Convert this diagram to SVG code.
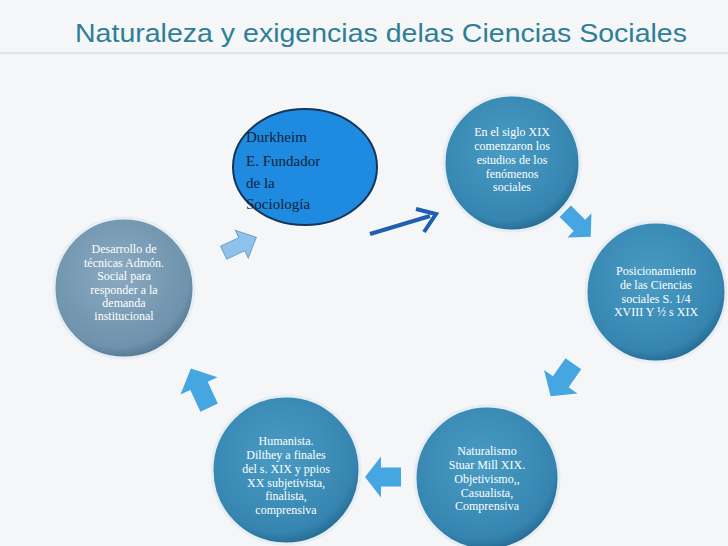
<svg xmlns="http://www.w3.org/2000/svg" width="728" height="546" viewBox="0 0 728 546">
<defs>
<radialGradient id="g1" cx="0.45" cy="0.4" r="0.65"><stop offset="0" stop-color="#4a9cc4"/><stop offset="0.8" stop-color="#3585b0"/><stop offset="1" stop-color="#1f5f85"/></radialGradient>
<radialGradient id="g2" cx="0.45" cy="0.4" r="0.65"><stop offset="0" stop-color="#8aaac0"/><stop offset="0.8" stop-color="#6f93ad"/><stop offset="1" stop-color="#4a6b85"/></radialGradient>
<path id="ba" d="M-18,-8 H2 V-17 L18,0 L2,17 V8 H-18 Z"/>
</defs>
<style>
.c{stroke:#e6eef3;stroke-width:3}
.t{font-family:"Liberation Serif",serif;font-size:12px;fill:#ffffff;text-anchor:middle}
.a{fill:#45a6e2}
</style>
<rect width="728" height="546" fill="#f4f6f7"/>
<rect x="0" y="52" width="728" height="2" fill="#dbe5ea"/>
<text x="75" y="42" font-family="Liberation Sans,sans-serif" font-size="26" fill="#2f7e98" textLength="612" lengthAdjust="spacingAndGlyphs">Naturaleza y exigencias  delas Ciencias Sociales</text>
<g id="durkheim"><ellipse cx="305" cy="167" rx="72" ry="58" fill="#1e8ae0" stroke="#14365a" stroke-width="2"/>
<text font-family="Liberation Serif,serif" font-size="15" fill="#14233a"><tspan x="246" y="142">Durkheim</tspan><tspan x="246" y="166">E. Fundador</tspan><tspan x="246" y="188">de  la</tspan><tspan x="246" y="209">Sociología</tspan></text></g>
<g id="n1"><circle cx="512" cy="163" r="68" fill="url(#g1)" class="c"/>
<text class="t"><tspan x="512" y="136">En el siglo XIX</tspan><tspan x="512" y="150">comenzaron los</tspan><tspan x="512" y="164">estudios de los</tspan><tspan x="512" y="178">fenómenos</tspan><tspan x="512" y="191">sociales</tspan></text></g>
<g id="n2"><circle cx="656" cy="292" r="70" fill="url(#g1)" class="c"/>
<text class="t"><tspan x="656" y="275">Posicionamiento</tspan><tspan x="656" y="289">de las Ciencias</tspan><tspan x="656" y="303">sociales S. 1/4</tspan><tspan x="656" y="316">XVIII  Y ½ s XIX</tspan></text></g>
<g id="n3"><circle cx="487" cy="478" r="72" fill="url(#g1)" class="c"/>
<text class="t"><tspan x="487" y="455">Naturalismo</tspan><tspan x="487" y="469">Stuar Mill  XIX.</tspan><tspan x="487" y="483">Objetivismo,,</tspan><tspan x="487" y="497">Casualista,</tspan><tspan x="487" y="510">Comprensiva</tspan></text></g>
<g id="n4"><circle cx="286" cy="470" r="74" fill="url(#g1)" class="c"/>
<text class="t"><tspan x="286" y="445">Humanista.</tspan><tspan x="286" y="459">Dilthey a  finales</tspan><tspan x="286" y="473">del s. XIX y ppios</tspan><tspan x="286" y="487">XX subjetivista,</tspan><tspan x="286" y="500">finalista,</tspan><tspan x="286" y="514">comprensiva</tspan></text></g>
<g id="n5"><circle cx="124" cy="288" r="70" fill="url(#g2)" class="c"/>
<text class="t"><tspan x="124" y="253">Desarrollo de</tspan><tspan x="124" y="267">técnicas  Admón.</tspan><tspan x="124" y="280">Social para</tspan><tspan x="124" y="294">responder a la</tspan><tspan x="124" y="307">demanda</tspan><tspan x="124" y="320">institucional</tspan></text></g>
<g id="connectors">
<path d="M370,234 L430,216" stroke="#1f5fb0" stroke-width="4" fill="none"/>
<path d="M416,209 L436,214 L424,232" stroke="#1f5fb0" stroke-width="4" fill="none"/>
<use href="#ba" class="a" transform="translate(578,224) rotate(45)"/>
<use href="#ba" class="a" transform="translate(562,380) rotate(125) scale(1.1,1.2)"/>
<use href="#ba" class="a" transform="translate(383,477) rotate(180) scale(1,1.2)"/>
<use href="#ba" class="a" fill="#5aaee6" transform="translate(200,388) rotate(-115) scale(1.2,1.2)"/>
<use href="#ba" fill="#8ec2ea" stroke="#6aa0cc" transform="translate(240,245) rotate(-25) scale(1,0.9)"/>
</g>
</svg>
